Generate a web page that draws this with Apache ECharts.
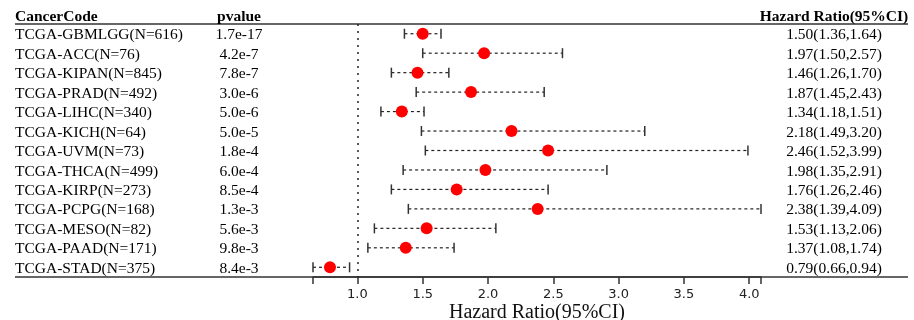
<!DOCTYPE html>
<html><head><meta charset="utf-8">
<script src="https://cdn.jsdelivr.net/npm/echarts@6/dist/echarts.min.js"></script>
<style>html,body{margin:0;padding:0;background:#fff}#chart{width:914px;height:320px}</style>
</head><body><div id="chart"></div>
<script>
// Cox regression results per cancer type
const cancerCodes = ['TCGA-GBMLGG(N=616)', 'TCGA-ACC(N=76)', 'TCGA-KIPAN(N=845)', 'TCGA-PRAD(N=492)',
  'TCGA-LIHC(N=340)', 'TCGA-KICH(N=64)', 'TCGA-UVM(N=73)', 'TCGA-THCA(N=499)', 'TCGA-KIRP(N=273)',
  'TCGA-PCPG(N=168)', 'TCGA-MESO(N=82)', 'TCGA-PAAD(N=171)', 'TCGA-STAD(N=375)'];
const pvalues = ['1.7e-17', '4.2e-7', '7.8e-7', '3.0e-6', '5.0e-6', '5.0e-5', '1.8e-4', '6.0e-4',
  '8.5e-4', '1.3e-3', '5.6e-3', '9.8e-3', '8.4e-3'];
const hazardRatio = [1.50, 1.97, 1.46, 1.87, 1.34, 2.18, 2.46, 1.98, 1.76, 2.38, 1.53, 1.37, 0.79];
const ciLower = [1.36, 1.50, 1.26, 1.45, 1.18, 1.49, 1.52, 1.35, 1.26, 1.39, 1.13, 1.08, 0.66];
const ciUpper = [1.64, 2.57, 1.70, 2.43, 1.51, 3.20, 3.99, 2.91, 2.46, 4.09, 2.06, 1.74, 0.94];
const tickValues = [0.66, 1.0, 1.5, 2.0, 2.5, 3.0, 3.5, 4.0, 4.09];
const tickLabels = [1.0, 1.5, 2.0, 2.5, 3.0, 3.5, 4.0];
const headers = ['CancerCode', 'pvalue', 'Hazard Ratio(95%CI)'];

const SERIF = '"Liberation Serif", "Times New Roman", serif';
const fmt = v => v.toFixed(2);
const hrText = hazardRatio.map((v, i) => fmt(v) + '(' + fmt(ciLower[i]) + ',' + fmt(ciUpper[i]) + ')');

const chart = echarts.init(document.getElementById('chart'), null, { renderer: 'canvas' });

const GRID_TOP = 24, GRID_BOTTOM_Y = 277;
const COL_NAME_X = 15, COL_P_X = 239, COL_HR_X = 834;
const TEXT_FONT = '15.5px ' + SERIF;
const HEAD_FONT = 'bold 15.5px ' + SERIF;

chart.setOption({
  animation: false,
  backgroundColor: '#fff',
  grid: { left: 313, right: 153, top: GRID_TOP, bottom: 320 - GRID_BOTTOM_Y,
    containLabel: false, outerBoundsMode: 'none' },
  xAxis: {
    type: 'value', min: 0.66, max: 4.09,
    splitLine: { show: false },
    axisLine: { show: true, lineStyle: { color: '#333', width: 1.5 } },
    axisTick: { show: true, length: 7, customValues: tickValues, lineStyle: { color: '#333', width: 1.5 } },
    axisLabel: { customValues: tickLabels, formatter: v => Number(v).toFixed(1),
      fontFamily: '"DejaVu Sans", sans-serif', fontSize: 13, color: '#222', margin: 11 },
    name: 'Hazard Ratio(95%CI)', nameLocation: 'middle', nameGap: 26, nameMoveOverlap: false,
    nameTextStyle: { fontFamily: SERIF, fontSize: 20, color: '#111' }
  },
  yAxis: { type: 'category', data: cancerCodes, inverse: true, show: false },
  graphic: [
    { type: 'line', shape: { x1: 15, y1: GRID_TOP, x2: 908, y2: GRID_TOP }, style: { stroke: '#333', lineWidth: 1.5 } },
    { type: 'line', shape: { x1: 15, y1: GRID_BOTTOM_Y, x2: 908, y2: GRID_BOTTOM_Y }, style: { stroke: '#333', lineWidth: 1.5 } },
    { type: 'text', x: COL_NAME_X, y: 16.5, style: { text: headers[0], font: HEAD_FONT, fill: '#000', align: 'left', verticalAlign: 'middle' } },
    { type: 'text', x: COL_P_X, y: 16.5, style: { text: headers[1], font: HEAD_FONT, fill: '#000', align: 'center', verticalAlign: 'middle' } },
    { type: 'text', x: COL_HR_X, y: 16.5, style: { text: headers[2], font: HEAD_FONT, fill: '#000', align: 'center', verticalAlign: 'middle' } }
  ],
  series: [
    {
      // confidence interval whiskers
      type: 'custom',
      data: ciLower.map((lo, i) => [lo, ciUpper[i], i]),
      encode: { x: [0, 1], y: 2 },
      renderItem: (params, api) => {
        const p0 = api.coord([api.value(0), api.value(2)]);
        const p1 = api.coord([api.value(1), api.value(2)]);
        const y = p0[1], h = 5;
        return { type: 'group', children: [
          { type: 'line', shape: { x1: p0[0], y1: y, x2: p1[0], y2: y }, style: { stroke: '#222', lineWidth: 1.2, lineDash: [3, 3] } },
          { type: 'line', shape: { x1: p0[0], y1: y - h, x2: p0[0], y2: y + h }, style: { stroke: '#333', lineWidth: 1.5 } },
          { type: 'line', shape: { x1: p1[0], y1: y - h, x2: p1[0], y2: y + h }, style: { stroke: '#333', lineWidth: 1.5 } }
        ] };
      },
      z: 2
    },
    {
      // hazard ratio points
      type: 'scatter',
      data: hazardRatio.map((v, i) => [v, i]),
      symbolSize: 12,
      itemStyle: { color: '#ff0000', opacity: 1 },
      z: 3,
      markLine: {
        silent: true, symbol: 'none', label: { show: false },
        lineStyle: { type: [2, 5], color: '#222', width: 1.5 },
        data: [{ xAxis: 1 }]
      }
    },
    {
      // table columns: cancer code, p-value, HR (95% CI)
      type: 'custom',
      data: cancerCodes.map((c, i) => [1, i]),
      encode: { x: 0, y: 1 },
      renderItem: (params, api) => {
        const i = params.dataIndex;
        const y = api.coord([1, api.value(1)])[1] + 1.5;
        return { type: 'group', children: [
          { type: 'text', x: COL_NAME_X, y: y, style: { text: cancerCodes[i], font: TEXT_FONT, fill: '#000', align: 'left', verticalAlign: 'middle' } },
          { type: 'text', x: COL_P_X, y: y, style: { text: pvalues[i], font: TEXT_FONT, fill: '#000', align: 'center', verticalAlign: 'middle' } },
          { type: 'text', x: COL_HR_X, y: y, style: { text: hrText[i], font: TEXT_FONT, fill: '#000', align: 'center', verticalAlign: 'middle' } }
        ] };
      },
      z: 1
    }
  ]
});
</script></body></html>
